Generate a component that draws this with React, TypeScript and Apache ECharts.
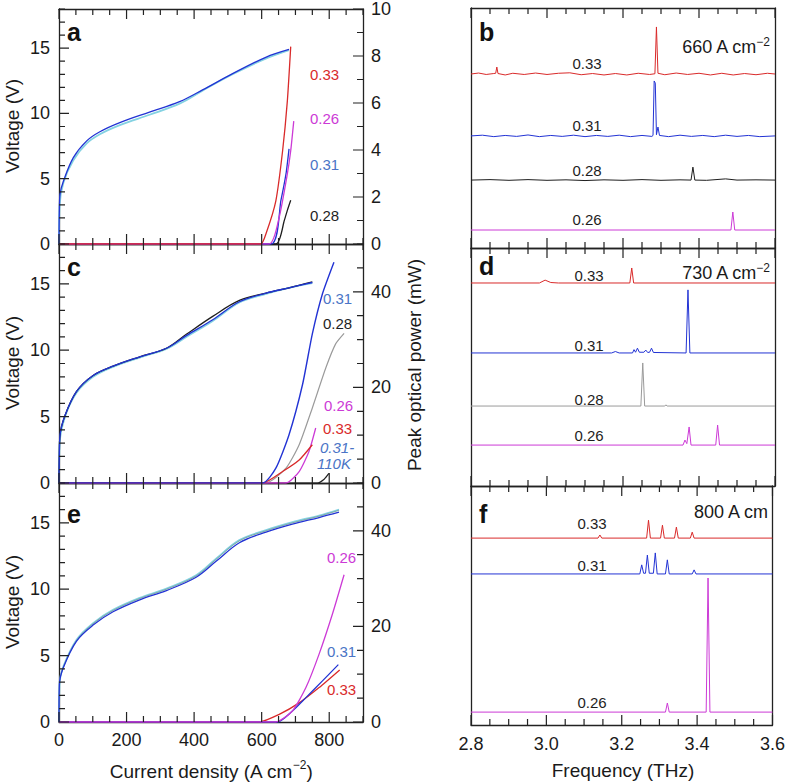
import React, { useEffect, useRef } from "react";
import * as echarts from "echarts";

const FONT = "'Liberation Sans', Arial, Helvetica, sans-serif";

// ---------- colours ----------
const RED = "#d92a2a";
const BLUE = "#2233d4";
const BLACK = "#1e1e1e";
const MAGENTA = "#cc3ad6";
const GRAY = "#9a9a9a";
const CYAN = "#84d2e2";
const LIGHTBLUE = "#4a74c6";
const GREENGRAY = "#7c9a92";

// ---------- tick values ----------
const jTicks = [0, 50, 100, 150, 200, 250, 300, 350, 400, 450, 500, 550, 600, 650, 700, 750, 800, 850, 900];
const jMajor = [0, 200, 400, 600, 800];
const vTicks = [0, 1, 2, 3, 4, 5, 6, 7, 8, 9, 10, 11, 12, 13, 14, 15, 16, 17, 18];
const vMajor = [0, 5, 10, 15];
const pTicksA = [0, 1, 2, 3, 4, 5, 6, 7, 8, 9, 10];
const pMajorA = [0, 2, 4, 6, 8, 10];
const pTicksCE = [0, 5, 10, 15, 20, 25, 30, 35, 40, 45, 50];
const pMajorCE = [0, 20, 40];
const fTicks = [2.8, 2.85, 2.9, 2.95, 3.0, 3.05, 3.1, 3.15, 3.2, 3.25, 3.3, 3.35, 3.4, 3.45, 3.5, 3.55, 3.6];
const fMajor = [2.8, 3.0, 3.2, 3.4, 3.6];

// ---------- panel a (J in A cm^-2, V in volts; P in mW) ----------
const ivA_blue: number[][] = [[0, 0], [1, 2.5], [3, 3.8], [13, 4.8], [42, 6.6], [82, 7.9], [121, 8.6], [180, 9.3], [268, 10.1], [357, 10.9], [425, 11.8], [514, 13.05], [612, 14.3], [681, 14.9]];
const ivA_cyan: number[][] = [[0, 0], [2, 3.0], [13, 4.7], [42, 6.4], [82, 7.7], [121, 8.4], [180, 9.1], [268, 9.9], [357, 10.75], [425, 11.75], [514, 13.0], [612, 14.2], [681, 14.85]];
const pA_033: number[][] = [[0, 0], [597, 0], [613, 0.45], [642, 1.84], [662, 3.97], [676, 6.08], [686, 8.4]];
const pA_026: number[][] = [[0, 0], [622, 0], [652, 1.15], [676, 2.98], [686, 3.97], [695, 5.23]];
const pA_031: number[][] = [[0, 0], [628, 0], [657, 1.86], [672, 2.98], [681, 4.05]];
const pA_028: number[][] = [[0, 0], [642, 0], [667, 1.0], [676, 1.43], [686, 1.86]];

// ---------- panel c ----------
const ivC_blue: number[][] = [[0, 0], [1, 2.2], [3, 3.6], [18, 5.1], [52, 6.9], [101, 8.1], [160, 8.8], [239, 9.5], [318, 10.15], [377, 11.1], [455, 12.3], [534, 13.65], [613, 14.3], [681, 14.7], [750, 15.1]];
const ivC_cyan: number[][] = [[0, 0], [2, 3.0], [18, 5.0], [52, 6.8], [101, 8.0], [160, 8.75], [239, 9.45], [318, 10.1], [377, 11.0], [455, 12.2], [534, 13.6], [613, 14.25], [681, 14.7], [750, 15.05]];
const ivC_black: number[][] = [[0, 0], [1, 2.2], [3, 3.6], [18, 5.1], [52, 6.9], [101, 8.1], [160, 8.8], [239, 9.5], [318, 10.15], [377, 11.2], [455, 12.55], [534, 13.75], [613, 14.3], [681, 14.7], [750, 15.15]];
const pC_031: number[][] = [[0, 0], [603, 0], [642, 3.1], [681, 10.1], [721, 20.6], [750, 31.2], [780, 39.6], [814, 46.2]];
const pC_028: number[][] = [[0, 0], [612, 0], [672, 3.1], [711, 8.0], [750, 15.7], [790, 24.1], [819, 29.1], [844, 31.3]];
const pC_033: number[][] = [[0, 0], [603, 0], [662, 2.4], [711, 4.8], [750, 8.0]];
const pC_026: number[][] = [[0, 0], [672, 0], [711, 2.4], [740, 6.6], [760, 11.5]];
const pC_110K: number[][] = [[0, 0], [765, 0], [785, 0.8], [799, 2.0]];

// ---------- panel e ----------
const ivE_blue: number[][] = [[0, 0], [1, 2.8], [13, 4.1], [52, 6.1], [101, 7.3], [160, 8.3], [239, 9.2], [318, 9.9], [406, 10.9], [465, 12.1], [534, 13.5], [613, 14.3], [691, 14.9], [770, 15.4], [829, 15.8]];
const ivE_cyan: number[][] = [[0, 0], [2, 3.0], [13, 4.2], [52, 6.2], [101, 7.45], [160, 8.45], [239, 9.35], [318, 10.05], [406, 11.05], [465, 12.3], [534, 13.7], [613, 14.45], [691, 15.05], [770, 15.55], [829, 16.0]];
const ivE_gray: number[][] = [[0, 0], [2, 3.0], [13, 4.15], [52, 6.15], [101, 7.4], [160, 8.4], [239, 9.3], [318, 10.0], [406, 11.0], [465, 12.25], [534, 13.65], [613, 14.4], [691, 15.0], [770, 15.5], [829, 15.95]];
const pE_026: number[][] = [[0, 0], [642, 0], [691, 2.3], [731, 7.2], [770, 14.2], [810, 22.7], [844, 30.8]];
const pE_031: number[][] = [[0, 0], [647, 0], [691, 2.3], [731, 5.1], [780, 8.6], [827, 12.0]];
const pE_033: number[][] = [[0, 0], [593, 0], [652, 1.6], [711, 4.0], [770, 7.2], [831, 10.9]];

// ---------- spectra (frequency THz, relative intensity) ----------
const specB_033: number[][] = [[2.8, 0], [2.82, 0.4], [2.84, -0.2], [2.86, 0.2], [2.865, 0.3], [2.868, 2.9], [2.871, 0.2], [2.89, -0.4], [2.91, 0.3], [2.94, -0.2], [2.97, 0.4], [3.0, -0.2], [3.03, 0.3], [3.06, 0.5], [3.09, -0.3], [3.12, 0.2], [3.15, -0.4], [3.18, 0.2], [3.21, -0.4], [3.24, 0.3], [3.27, -0.2], [3.284, 0.1], [3.288, 19.6], [3.292, 0.3], [3.31, -0.3], [3.34, 0.4], [3.37, -0.2], [3.4, 0.3], [3.43, -0.4], [3.46, 0.3], [3.49, -0.4], [3.52, 0.2], [3.55, -0.3], [3.58, 0.3], [3.6, 0]];
const specB_031: number[][] = [[2.8, 0], [2.83, 0.3], [2.86, -0.3], [2.89, 0.2], [2.92, -0.2], [2.95, 0.4], [2.98, -0.3], [3.01, 0.2], [3.04, -0.2], [3.07, 0.3], [3.1, -0.3], [3.13, 0.2], [3.16, -0.2], [3.19, 0.3], [3.22, -0.3], [3.25, 0.2], [3.276, -0.2], [3.279, 0.2], [3.282, 22.9], [3.285, 22.0], [3.288, 0.5], [3.292, 3.7], [3.296, 0.2], [3.32, -0.3], [3.35, 0.3], [3.38, -0.2], [3.41, 0.2], [3.44, -0.3], [3.47, 0.3], [3.5, -0.2], [3.53, 0.2], [3.56, -0.3], [3.6, 0]];
const specB_028: number[][] = [[2.8, 0], [2.85, 0.2], [2.9, -0.1], [2.95, 0.2], [3.0, -0.1], [3.05, 0.1], [3.1, -0.2], [3.15, 0.1], [3.2, -0.1], [3.25, 0.2], [3.3, -0.1], [3.35, 0.1], [3.379, 0], [3.384, 5.4], [3.389, 0], [3.42, -0.1], [3.47, 0.5], [3.5, 0], [3.55, 0.1], [3.6, 0]];
const specB_026: number[][] = [[2.8, 0], [3.484, 0], [3.489, 7.5], [3.494, 0], [3.6, 0]];

const specD_033: number[][] = [[2.8, 0], [2.98, 0], [2.995, 1.2], [3.01, 0.2], [3.03, 0], [3.218, 0], [3.223, 6.3], [3.228, 0], [3.6, 0]];
const specD_031: number[][] = [[2.8, 0], [3.17, 0], [3.18, 0.6], [3.19, 0], [3.225, 0], [3.229, 1.4], [3.233, 0.3], [3.238, 2.0], [3.243, 0.3], [3.255, 0.3], [3.26, 1.2], [3.265, 0.2], [3.27, 0.3], [3.275, 2.0], [3.28, 0.2], [3.366, 0], [3.371, 26.5], [3.376, 0], [3.6, 0]];
const specD_028: number[][] = [[2.8, 0], [3.247, 0], [3.252, 18.1], [3.257, 0], [3.31, 0], [3.313, 0.5], [3.316, 0], [3.6, 0]];
const specD_026: number[][] = [[2.8, 0], [3.358, 0], [3.363, 2.1], [3.368, 0.6], [3.374, 7.6], [3.379, 0], [3.444, 0], [3.449, 8.4], [3.454, 0], [3.6, 0]];

const specF_033: number[][] = [[2.8, 0], [3.137, 0], [3.142, 1.3], [3.147, 0], [3.266, 0], [3.271, 7.5], [3.276, 0], [3.303, 0], [3.308, 5.4], [3.313, 0], [3.34, 0], [3.345, 4.6], [3.35, 0], [3.382, 0], [3.387, 2.5], [3.392, 0], [3.6, 0]];
const specF_031: number[][] = [[2.8, 0], [3.248, 0], [3.253, 3.8], [3.258, 0.3], [3.263, 0.3], [3.268, 7.9], [3.273, 0.3], [3.284, 0.3], [3.289, 8.8], [3.294, 0], [3.316, 0], [3.321, 5.9], [3.326, 0], [3.387, 0], [3.392, 1.7], [3.397, 0], [3.6, 0]];
const specF_026: number[][] = [[2.8, 0], [3.316, 0], [3.321, 3.8], [3.326, 0], [3.424, 0], [3.429, 56.1], [3.434, 0], [3.6, 0]];

// vertical offsets of the stacked spectra (percent of panel height)
const offB = { s033: 72.5, s031: 46.7, s028: 28.3, s026: 7.5 };
const offD = { s033: 85.3, s031: 55.9, s028: 33.6, s026: 17.2 };
const offF = { s033: 78.2, s031: 63.2, s026: 5.4 };

// ---------- layout ----------
const L_LEFT = 59, L_W = 304, R_LEFT = 471, R_W = 304;
const leftRows = [{ top: 8, h: 236 }, { top: 244, h: 239 }, { top: 483, h: 239 }];
const rightRows = [{ top: 8, h: 240 }, { top: 248, h: 238 }, { top: 486, h: 239 }];
const MINOR_LEN = 6, MAJOR_LEN = 10;

const labelStyle = { fontFamily: FONT, fontSize: 18, color: "#1a1a1a" };
const AXIS_LS = { color: "#222", width: 1.3 };

function mkAxis(gridIndex: number, position: string, min: number, max: number, interval: number, formatter: any, margin = 8) {
  return {
    type: "value", gridIndex, position, min, max, interval,
    axisLine: { show: true, onZero: false, lineStyle: AXIS_LS },
    splitLine: { show: false },
    axisTick: { show: false },
    minorTick: { show: false },
    axisLabel: formatter ? { show: true, formatter, margin, ...labelStyle } : { show: false },
  };
}

// ticks drawn as broken line series on the axes' own scales; lengths are converted from px to data units
function tickLineSeries(values: number[], major: number[], side: string, fixed: number, unitsPerPx: number, xAxisIndex: number, yAxisIndex: number) {
  const data: any[] = [];
  values.forEach((v) => {
    const isMajor = major.some((m) => Math.abs(m - v) < 1e-6);
    const len = (isMajor ? MAJOR_LEN : MINOR_LEN) * unitsPerPx;
    if (side === "bottom") data.push([v, fixed], [v, fixed + len]);
    else if (side === "top") data.push([v, fixed], [v, fixed - len]);
    else if (side === "left") data.push([fixed, v], [fixed + len, v]);
    else data.push([fixed, v], [fixed - len, v]);
    data.push([null, null]);
  });
  return {
    type: "line", data, xAxisIndex, yAxisIndex, showSymbol: false, symbol: "none", silent: true, z: 5,
    connectNulls: false, clip: false, lineStyle: { color: "#222", width: 1.2 },
  };
}

function buildOption() {
  const xAxes: any[] = [];
  const yAxes: any[] = [];
  const grids: any[] = [];
  const series: any[] = [];
  const leftIdx: { x: number; yV: number; yP: number }[] = [];
  const rightIdx: { x: number; y: number }[] = [];

  const pCfg = [
    { max: 10, minor: 1, major: 2, ticks: pTicksA, majors: pMajorA },
    { max: 50, minor: 5, major: 20, ticks: pTicksCE, majors: pMajorCE },
    { max: 50, minor: 5, major: 20, ticks: pTicksCE, majors: pMajorCE },
  ];

  leftRows.forEach((r, i) => {
    const g = grids.length;
    grids.push({ left: L_LEFT, width: L_W, top: r.top, height: r.h });
    const xi = xAxes.length;
    xAxes.push(mkAxis(g, "bottom", 0, 900, 50, i === 2 ? (v: number) => (v % 200 === 0 ? String(v) : "") : null, 9));
    xAxes.push(mkAxis(g, "top", 0, 900, 50, null));
    const yv = yAxes.length;
    yAxes.push(mkAxis(g, "left", 0, 18, 1, (v: number) => (v % 5 === 0 ? String(v) : ""), 9));
    const yp = yAxes.length;
    const pc = pCfg[i];
    yAxes.push(mkAxis(g, "right", 0, pc.max, pc.minor, (v: number) => (v % pc.major === 0 ? String(v) : ""), 8));
    leftIdx.push({ x: xi, yV: yv, yP: yp });
    series.push(tickLineSeries(jTicks, jMajor, "bottom", 0, 18 / r.h, xi, yv));
    series.push(tickLineSeries(jTicks, jMajor, "top", 18, 18 / r.h, xi, yv));
    series.push(tickLineSeries(vTicks, vMajor, "left", 0, 900 / L_W, xi, yv));
    series.push(tickLineSeries(pc.ticks, pc.majors, "right", 900, 900 / L_W, xi, yp));
  });

  rightRows.forEach((r, i) => {
    const g = grids.length;
    grids.push({ left: R_LEFT, width: R_W, top: r.top, height: r.h });
    const xi = xAxes.length;
    xAxes.push(mkAxis(g, "bottom", 2.8, 3.6, 0.2, i === 2 ? (v: number) => v.toFixed(1) : null, 10));
    xAxes.push(mkAxis(g, "top", 2.8, 3.6, 0.2, null));
    const yi = yAxes.length;
    yAxes.push(mkAxis(g, "left", 0, 100, 50, null));
    yAxes.push(mkAxis(g, "right", 0, 100, 50, null));
    rightIdx.push({ x: xi, y: yi });
    series.push(tickLineSeries(fTicks, fMajor, "bottom", 0, 100 / r.h, xi, yi));
    series.push(tickLineSeries(fTicks, fMajor, "top", 100, 100 / r.h, xi, yi));
  });

  const line = (data: number[][], color: string, xAxisIndex: number, yAxisIndex: number, width = 1.2, z = 2, smooth: any = false) => ({
    type: "line", data, xAxisIndex, yAxisIndex, showSymbol: false, symbol: "none", z,
    lineStyle: { color, width }, smooth,
  });
  const shift = (d: number[][], off: number) => d.map(([f, v]) => [f, v + off]);
  const S = 0.35;

  const a = leftIdx[0];
  series.push(line(ivA_cyan, CYAN, a.x, a.yV, 1.8, 2, S));
  series.push(line(ivA_blue, BLUE, a.x, a.yV, 1.3, 3, S));
  series.push(line(pA_028, BLACK, a.x, a.yP, 1.3, 2, 0.2));
  series.push(line(pA_031, BLUE, a.x, a.yP, 1.3, 2, 0.2));
  series.push(line(pA_026, MAGENTA, a.x, a.yP, 1.3, 2, 0.2));
  series.push(line(pA_033, RED, a.x, a.yP, 1.3, 2, 0.2));
  const c = leftIdx[1];
  series.push(line(ivC_cyan, CYAN, c.x, c.yV, 1.8, 2, S));
  series.push(line(ivC_black, BLACK, c.x, c.yV, 1.3, 2, S));
  series.push(line(ivC_blue, BLUE, c.x, c.yV, 1.3, 3, S));
  series.push(line(pC_028, GRAY, c.x, c.yP, 1.2, 2, 0.2));
  series.push(line(pC_110K, BLACK, c.x, c.yP, 1.2, 2, 0.2));
  series.push(line(pC_026, MAGENTA, c.x, c.yP, 1.3, 2, 0.2));
  series.push(line(pC_033, RED, c.x, c.yP, 1.3, 2, 0.2));
  series.push(line(pC_031, BLUE, c.x, c.yP, 1.4, 2, 0.2));
  const e = leftIdx[2];
  series.push(line(ivE_cyan, CYAN, e.x, e.yV, 1.8, 2, S));
  series.push(line(ivE_gray, GREENGRAY, e.x, e.yV, 0.8, 2, S));
  series.push(line(ivE_blue, BLUE, e.x, e.yV, 1.3, 3, S));
  series.push(line(pE_033, RED, e.x, e.yP, 1.3, 2, 0.2));
  series.push(line(pE_031, BLUE, e.x, e.yP, 1.3, 2, 0.2));
  series.push(line(pE_026, MAGENTA, e.x, e.yP, 1.3, 2, 0.2));

  const b = rightIdx[0];
  series.push(line(shift(specB_033, offB.s033), RED, b.x, b.y, 1));
  series.push(line(shift(specB_031, offB.s031), BLUE, b.x, b.y, 1));
  series.push(line(shift(specB_028, offB.s028), BLACK, b.x, b.y, 1));
  series.push(line(shift(specB_026, offB.s026), MAGENTA, b.x, b.y, 1));
  const d = rightIdx[1];
  series.push(line(shift(specD_033, offD.s033), RED, d.x, d.y, 1));
  series.push(line(shift(specD_031, offD.s031), BLUE, d.x, d.y, 1));
  series.push(line(shift(specD_028, offD.s028), GRAY, d.x, d.y, 1));
  series.push(line(shift(specD_026, offD.s026), MAGENTA, d.x, d.y, 1));
  const f = rightIdx[2];
  series.push(line(shift(specF_033, offF.s033), RED, f.x, f.y, 1));
  series.push(line(shift(specF_031, offF.s031), BLUE, f.x, f.y, 1));
  series.push(line(shift(specF_026, offF.s026), MAGENTA, f.x, f.y, 1));

  const txt = (text: string, x: number, y: number, fill: string, size = 15, extra: any = {}) => ({
    type: "text", x, y, silent: true, z: 10,
    style: { text, fill, font: `${extra.italic ? "italic " : ""}${extra.bold ? "bold " : ""}${size}px ${FONT}`, textAlign: extra.align || "left", textVerticalAlign: "middle" },
  });
  const rich = (text: string, x: number, y: number, align: string, rotation = 0, size = 19) => ({
    type: "text", x, y, rotation, silent: true, z: 10,
    style: {
      text, fill: "#1a1a1a", textAlign: align, textVerticalAlign: "middle",
      rich: {
        m: { fontFamily: FONT, fontSize: size, lineHeight: size + 5, fill: "#1a1a1a" },
        s: { fontFamily: FONT, fontSize: 12, verticalAlign: "top", fill: "#1a1a1a" },
      },
    },
  });

  const graphic: any[] = [
    txt("a", 67, 32, "#111", 25, { bold: true }),
    txt("c", 67, 267, "#111", 25, { bold: true }),
    txt("e", 67, 514, "#111", 25, { bold: true }),
    txt("b", 479, 32, "#111", 25, { bold: true }),
    txt("d", 479, 266, "#111", 25, { bold: true }),
    txt("f", 479, 514, "#111", 25, { bold: true }),
    txt("0.33", 310, 74, RED),
    txt("0.26", 310, 118, MAGENTA),
    txt("0.31", 310, 164, LIGHTBLUE),
    txt("0.28", 310, 215, BLACK),
    txt("0.31", 323, 298, LIGHTBLUE),
    txt("0.28", 323, 323, BLACK),
    txt("0.26", 324, 405, MAGENTA),
    txt("0.33", 323, 428, RED),
    txt("0.31-", 320, 447, LIGHTBLUE, 15, { italic: true }),
    txt("110K", 317, 463, LIGHTBLUE, 15, { italic: true }),
    txt("0.26", 327, 557, MAGENTA),
    txt("0.31", 327, 651, LIGHTBLUE),
    txt("0.33", 327, 689, RED),
    txt("0.33", 587, 63, BLACK, 15, { align: "center" }),
    txt("0.31", 587, 125, BLACK, 15, { align: "center" }),
    txt("0.28", 587, 170, BLACK, 15, { align: "center" }),
    txt("0.26", 587, 219, BLACK, 15, { align: "center" }),
    txt("0.33", 589, 275, BLACK, 15, { align: "center" }),
    txt("0.31", 589, 345, BLACK, 15, { align: "center" }),
    txt("0.28", 589, 399, BLACK, 15, { align: "center" }),
    txt("0.26", 589, 435, BLACK, 15, { align: "center" }),
    txt("0.33", 592, 523, BLACK, 15, { align: "center" }),
    txt("0.31", 592, 565, BLACK, 15, { align: "center" }),
    txt("0.26", 592, 702, BLACK, 15, { align: "center" }),
    rich("{m|660 A cm}{s|−2}", 770, 47, "right", 0, 18),
    rich("{m|730 A cm}{s|−2}", 770, 273, "right", 0, 18),
    rich("{m|800 A cm}", 768, 512, "right", 0, 18),
    rich("{m|Voltage (V)}", 12, 126, "center", Math.PI / 2),
    rich("{m|Voltage (V)}", 12, 363, "center", Math.PI / 2),
    rich("{m|Voltage (V)}", 12, 602, "center", Math.PI / 2),
    rich("{m|Peak optical power (mW)}", 414, 365, "center", Math.PI / 2),
    rich("{m|Current density (A cm}{s|−2}{m|)}", 211, 771, "center"),
    rich("{m|Frequency (THz)}", 623, 770, "center"),
  ];

  return { animation: false, grid: grids, xAxis: xAxes, yAxis: yAxes, series, graphic };
}

export default function App() {
  const ref = useRef<HTMLDivElement>(null);
  useEffect(() => {
    if (!ref.current) return;
    const chart = echarts.init(ref.current, undefined, { renderer: "svg" });
    chart.setOption(buildOption() as any);
    return () => chart.dispose();
  }, []);
  return <div ref={ref} style={{ position: "fixed", left: 0, top: 0, width: 788, height: 782, background: "#fff" }} />;
}
